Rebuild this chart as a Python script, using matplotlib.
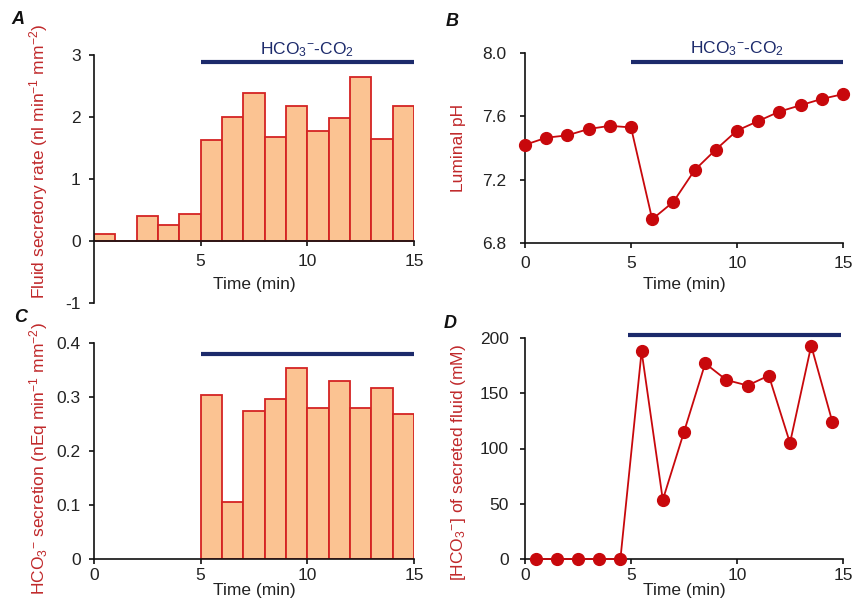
import matplotlib
matplotlib.use('Agg')
import matplotlib.pyplot as plt
import numpy as np

plt.rcParams['font.family'] = ['Liberation Sans', 'DejaVu Sans']
plt.rcParams['mathtext.fontset'] = 'custom'
plt.rcParams['mathtext.rm'] = 'Liberation Sans'
plt.rcParams['mathtext.it'] = 'Liberation Sans:italic'
plt.rcParams['mathtext.bf'] = 'Liberation Sans:bold'

# panel A: fluid secretory rate per 1-min bin
fluid_bin_start = [0, 1, 2, 3, 4, 5, 6, 7, 8, 9, 10, 11, 12, 13, 14]
fluid_rate = [0.11, 0.0, 0.40, 0.26, 0.43, 1.63, 2.00, 2.39, 1.68, 2.18, 1.77, 1.99, 2.65, 1.64, 2.18]

# panel B: luminal pH
ph_time = [0, 1, 2, 3, 4, 5, 6, 7, 8, 9, 10, 11, 12, 13, 14, 15]
ph_value = [7.42, 7.465, 7.48, 7.52, 7.54, 7.53, 6.95, 7.06, 7.26, 7.39, 7.51, 7.57, 7.63, 7.67, 7.71, 7.74]

# panel C: HCO3- secretion per bin
hco3_bin_start = [5, 6, 7, 8, 9, 10, 11, 12, 13, 14]
hco3_secretion = [0.304, 0.106, 0.274, 0.297, 0.353, 0.279, 0.329, 0.279, 0.316, 0.268]

# panel D: [HCO3-] of secreted fluid
conc_time = [0.5, 1.5, 2.5, 3.5, 4.5, 5.5, 6.5, 7.5, 8.5, 9.5, 10.5, 11.5, 12.5, 13.5, 14.5]
conc_value = [0, 0, 0, 0, 0, 188, 53.5, 115, 177, 162, 157, 166, 105, 193, 124]

# perfusion bars (start, end, level)
bar_a = (5, 15, 2.89)
bar_b = (5, 15, 7.945)
bar_c = (5, 15, 0.38)
bar_d = (4.85, 14.9, 203)
bar_label = r'HCO$_3$$^{-}$-CO$_2$'

BAR_FACE = '#fbc392'
BAR_EDGE = '#d42323'
RED = '#c8080c'
LABEL_RED = '#c0282a'
NAVY = '#1c2a6b'
FS = 12.5

W, H = 857, 602
fig = plt.figure(figsize=(W / 100, H / 100), dpi=100)


def make_ax(left, right, top, bottom):
    return fig.add_axes([left / W, 1 - bottom / H, (right - left) / W, (bottom - top) / H])


def style(ax, ypad=6):
    for s in ['top', 'right']:
        ax.spines[s].set_visible(False)
    for s in ['left', 'bottom']:
        ax.spines[s].set_linewidth(1.2)
        ax.spines[s].set_color('#111111')
    ax.tick_params(axis='both', labelsize=FS, length=3.5, width=1.2, color='#111111',
                   labelcolor='#222222')
    ax.tick_params(axis='y', direction='out', pad=ypad)
    ax.tick_params(axis='x', direction='out', pad=6)


def label_xy(ax, xl, yl, xpos, ypos, ylx, yly):
    ax.set_xlabel(xl, fontsize=FS, color='#222222')
    ax.xaxis.label.set_verticalalignment('center')
    ax.xaxis.set_label_coords(xpos, ypos)
    ax.set_ylabel(yl, fontsize=FS, color=LABEL_RED)
    ax.yaxis.label.set_verticalalignment('center')
    ax.yaxis.set_label_coords(ylx, yly)


# ---- A ----
axA = make_ax(94, 414, 55, 303)
axA.bar(fluid_bin_start, fluid_rate, width=1, align='edge', color=BAR_FACE,
        edgecolor=BAR_EDGE, linewidth=1.3, zorder=2)
axA.set_xlim(0, 15)
axA.set_ylim(-1, 3)
axA.set_yticks([-1, 0, 1, 2, 3])
axA.set_yticklabels(['-1', '0', '1', '2', '3'])
axA.set_xticks([5, 10, 15])
axA.spines['bottom'].set_position(('data', 0))
axA.spines['bottom'].set_zorder(3)
style(axA)
axA.plot([bar_a[0], bar_a[1]], [bar_a[2], bar_a[2]], color=NAVY, lw=3, clip_on=False,
         solid_capstyle='butt')
axA.text(10, 3.08, bar_label, color=NAVY, fontsize=FS, ha='center', va='center')
label_xy(axA, 'Time (min)', r'Fluid secretory rate (nl min$^{-1}$ mm$^{-2}$)',
         0.5, (303 - 285) / 248, -0.172, (303 - 161) / 248)

# ---- B ----
axB = make_ax(525, 843, 53, 243)
axB.plot(ph_time, ph_value, color=RED, lw=1.3, marker='o', markersize=8.5, clip_on=False, zorder=3)
axB.set_xlim(0, 15)
axB.set_ylim(6.8, 8.0)
axB.set_yticks([6.8, 7.2, 7.6, 8.0])
axB.set_yticklabels(['6.8', '7.2', '7.6', '8.0'])
axB.set_xticks([0, 5, 10, 15])
style(axB, ypad=10)
axB.plot([bar_b[0], bar_b[1]], [bar_b[2], bar_b[2]], color=NAVY, lw=3, clip_on=False,
         solid_capstyle='butt')
axB.text(10, 8.03, bar_label, color=NAVY, fontsize=FS, ha='center', va='center')
label_xy(axB, 'Time (min)', 'Luminal pH', 0.5, -(285 - 243) / 190, -0.21, 0.5)

# ---- C ----
axC = make_ax(94, 414, 343, 559)
axC.bar(hco3_bin_start, hco3_secretion, width=1, align='edge', color=BAR_FACE,
        edgecolor=BAR_EDGE, linewidth=1.3, zorder=2)
axC.set_xlim(0, 15)
axC.set_ylim(0, 0.4)
axC.set_yticks([0, 0.1, 0.2, 0.3, 0.4])
axC.set_yticklabels(['0', '0.1', '0.2', '0.3', '0.4'])
axC.set_xticks([0, 5, 10, 15])
style(axC)
axC.tick_params(axis='x', pad=3)
axC.plot([bar_c[0], bar_c[1]], [bar_c[2], bar_c[2]], color=NAVY, lw=3, clip_on=False,
         solid_capstyle='butt')
label_xy(axC, 'Time (min)', r'HCO$_3$$^{-}$ secretion (nEq min$^{-1}$ mm$^{-2}$)',
         0.5, -(590 - 559) / 216, -0.172, (559 - 459) / 216)

# ---- D ----
axD = make_ax(525, 843, 338, 559)
axD.plot(conc_time, conc_value, color=RED, lw=1.3, marker='o', markersize=8.5, clip_on=False, zorder=3)
axD.set_xlim(0, 15)
axD.set_ylim(0, 200)
axD.set_yticks([0, 50, 100, 150, 200])
axD.set_xticks([0, 5, 10, 15])
style(axD, ypad=8)
axD.tick_params(axis='x', pad=3)
axD.plot([bar_d[0], bar_d[1]], [bar_d[2], bar_d[2]], color=NAVY, lw=3, clip_on=False,
         solid_capstyle='butt')
label_xy(axD, 'Time (min)', r'[HCO$_3$$^{-}$] of secreted fluid (mM)',
         0.5, -(590 - 559) / 221, -0.21, (559 - 462) / 221)

# panel letters
for x, y, s in [(18, 19, 'A'), (452, 22, 'B'), (21, 318, 'C'), (450, 323, 'D')]:
    fig.text(x / W, 1 - y / H, s, fontsize=13, fontweight='bold', fontstyle='italic',
             ha='center', va='center', color='#111111')

fig.savefig('out.png', dpi=100)
